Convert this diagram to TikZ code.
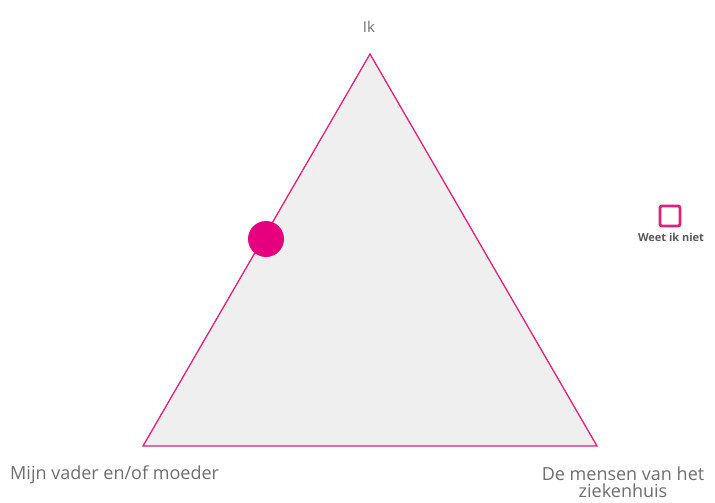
\documentclass[tikz,border=0pt]{standalone}
\usepackage{fontspec}
\setmainfont{Open Sans}
\definecolor{mag}{HTML}{E0207A}
\definecolor{dotc}{HTML}{E6007E}
\definecolor{trif}{HTML}{EFEFEF}
\definecolor{txt}{HTML}{6E6E6E}
\begin{document}
\begin{tikzpicture}[x=1pt,y=-1pt,
  lbl/.style={text=txt,font=\fontsize{18}{16.5}\selectfont,inner sep=0pt},
  small/.style={text=txt!80!black,font=\fontsize{11}{13}\selectfont\bfseries,inner sep=0pt}]
\useasboundingbox (0,0) rectangle (715,503);
\coordinate (top) at (370,54);
\coordinate (bl) at (143,446);
\coordinate (br) at (597,446);
\fill[trif] (top) -- (bl) -- (br) -- cycle;
\draw[mag,line width=1.3pt,line join=miter] (top) -- (bl) -- (br) -- cycle;
\node[circle,fill=dotc,minimum size=36pt,inner sep=0pt] (dot) at (266,239) {};
\node[draw=mag,line width=2.8pt,rounded corners=2pt,minimum size=20pt,inner sep=0pt] (sq) at (670,216) {};
\node[small] (wk) at (671,237) {Weet ik niet};
\node[lbl,font=\fontsize{15}{16}\selectfont] (ik) at (369,27) {Ik};
\node[lbl,anchor=west] (m) at (10,475) {Mijn vader en/of moeder};
\node[lbl,align=center] (d) at (623,482) {De mensen van het\\ziekenhuis};
\end{tikzpicture}
\end{document}
